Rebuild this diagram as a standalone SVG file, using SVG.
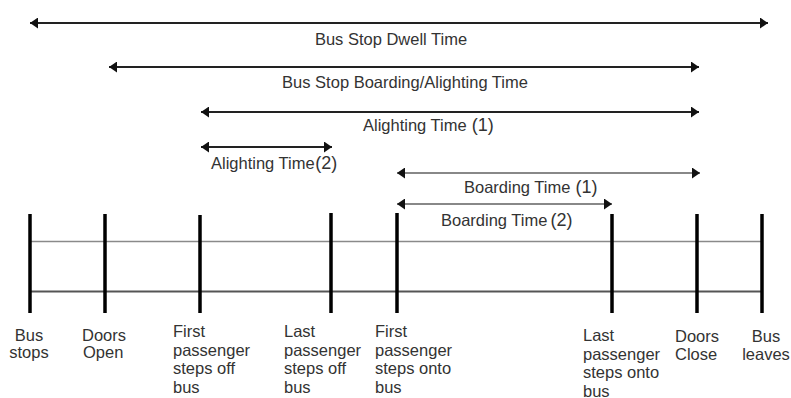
<svg xmlns="http://www.w3.org/2000/svg" width="791" height="398" viewBox="0 0 791 398">
  <defs>
    <marker id="head" viewBox="0 0 8 11" refX="8" refY="5.5" markerWidth="8" markerHeight="11" markerUnits="userSpaceOnUse" orient="auto-start-reverse">
      <path d="M0,0 L8,5.5 L0,11 Z" fill="#111"/>
    </marker>
  </defs>
  <style>
    text { font-family: "Liberation Sans", Arial, sans-serif; font-size: 16.5px; fill: #333; }
    .num { font-size: 18px; }
    .span { stroke: #222; stroke-width: 2; fill: none; }
    .span-light { stroke: #888; stroke-width: 2; fill: none; }
    .bar { stroke: #000; stroke-width: 3.5; }
    .rail { stroke: #8a8a8a; stroke-width: 1.6; }
    .rail-dark { stroke: #555; stroke-width: 1.8; }
    .mid { text-anchor: middle; }
  </style>
  <rect width="791" height="398" fill="#fff"/>

  <!-- time spans -->
  <g id="connectors">
    <line class="span" x1="30" y1="23" x2="768" y2="23" marker-start="url(#head)" marker-end="url(#head)"/>
    <line class="span" x1="109" y1="67" x2="699" y2="67" marker-start="url(#head)" marker-end="url(#head)"/>
    <line class="span" x1="201" y1="112" x2="699" y2="112" marker-start="url(#head)" marker-end="url(#head)"/>
    <line class="span" x1="201" y1="147" x2="332" y2="147" marker-start="url(#head)" marker-end="url(#head)"/>
    <line class="span-light" x1="397" y1="173" x2="700" y2="173" marker-start="url(#head)" marker-end="url(#head)"/>
    <line class="span-light" x1="397" y1="204" x2="612" y2="204" marker-start="url(#head)" marker-end="url(#head)"/>
  </g>

  <g id="span-labels">
    <text x="391" y="45" class="mid">Bus Stop Dwell Time</text>
    <text x="405" y="88" class="mid">Bus Stop Boarding/Alighting Time</text>
    <text x="363" y="131">Alighting Time<tspan class="num" dx="5">(1)</tspan></text>
    <text x="211" y="169">Alighting Time<tspan class="num" dx="0.5">(2)</tspan></text>
    <text x="464" y="193">Boarding Time<tspan class="num" dx="5">(1)</tspan></text>
    <text x="441" y="226">Boarding Time<tspan class="num" dx="3">(2)</tspan></text>
  </g>

  <!-- timeline rails -->
  <g id="rails">
    <line class="rail" x1="30" y1="241.5" x2="762" y2="241.5"/>
    <line class="rail-dark" x1="30" y1="291.5" x2="762" y2="291.5"/>
  </g>

  <!-- events -->
  <g id="bus-stops">
    <line class="bar" x1="30" y1="214" x2="30" y2="313"/>
    <text x="29" y="341" class="mid">Bus</text>
    <text x="29" y="358" class="mid">stops</text>
  </g>
  <g id="doors-open">
    <line class="bar" x1="105" y1="214" x2="105" y2="313"/>
    <text x="82" y="341">Doors</text>
    <text x="83" y="358">Open</text>
  </g>
  <g id="first-off">
    <line class="bar" x1="200" y1="215" x2="200" y2="313"/>
    <text x="173" y="337">First</text>
    <text x="173" y="355.5">passenger</text>
    <text x="173" y="374">steps off</text>
    <text x="173" y="392.5">bus</text>
  </g>
  <g id="last-off">
    <line class="bar" x1="331" y1="213" x2="331" y2="313"/>
    <text x="284" y="337">Last</text>
    <text x="284" y="355.5">passenger</text>
    <text x="284" y="374">steps off</text>
    <text x="284" y="392.5">bus</text>
  </g>
  <g id="first-on">
    <line class="bar" x1="397" y1="213" x2="397" y2="313"/>
    <text x="375" y="337">First</text>
    <text x="375" y="355.5">passenger</text>
    <text x="375" y="374">steps onto</text>
    <text x="375" y="392.5">bus</text>
  </g>
  <g id="last-on">
    <line class="bar" x1="612" y1="214" x2="612" y2="313"/>
    <text x="583" y="341">Last</text>
    <text x="583" y="359.5">passenger</text>
    <text x="583" y="378">steps onto</text>
    <text x="583" y="396.5">bus</text>
  </g>
  <g id="doors-close">
    <line class="bar" x1="697" y1="214" x2="697" y2="313"/>
    <text x="675" y="342">Doors</text>
    <text x="675" y="360">Close</text>
  </g>
  <g id="bus-leaves">
    <line class="bar" x1="762" y1="214" x2="762" y2="313"/>
    <text x="766" y="342" class="mid">Bus</text>
    <text x="766" y="360" class="mid">leaves</text>
  </g>
</svg>
